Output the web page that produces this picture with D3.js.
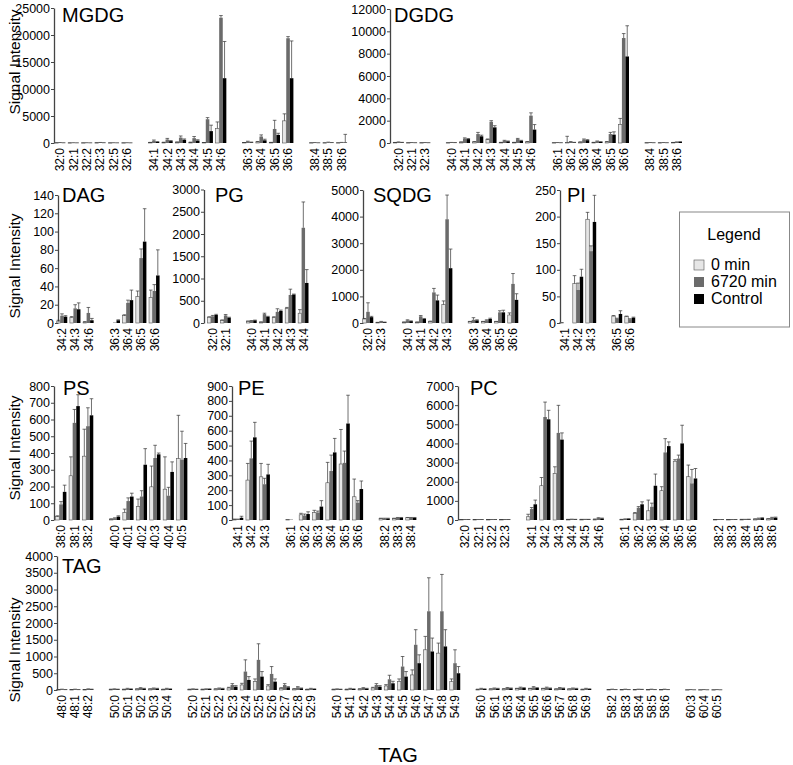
<!DOCTYPE html>
<html lang="en">
<head>
<meta charset="utf-8">
<title>Lipid species signal intensity</title>
<script src="https://d3js.org/d3.v7.min.js"></script>
<style>
body { margin: 0; background: #fff; }
text { font-family: "Liberation Sans", Arial, sans-serif; fill: #000; }
</style>
</head>
<body>
<script>
// series: 0 min, 6720 min, Control
var seriesNames = ["0 min", "6720 min", "Control"];

// MGDG
var mgdgCats = ["32:0","32:1","32:2","32:3","32:5","32:6","","34:1","34:2","34:3","34:4","34:5","34:6","","36:3","36:4","36:5","36:6","","38:4","38:5","38:6"];
var mgdgMean = [[40,60,30],[20,30,20],[20,30,20],[40,80,40],[20,30,20],[20,30,20],
  [80,400,200],[100,650,350],[150,1000,600],[120,900,450],[60,4400,2200],[2700,23200,12000],
  [60,250,120],[200,1200,500],[80,2600,1500],[4100,19400,12000],
  [30,60,30],[30,100,60],[30,80,100]];
var mgdgSd = [[10,20,10],[10,20,10],[10,20,10],[10,20,10],[10,20,10],[10,20,10],
  [40,150,60],[40,200,100],[50,300,150],[40,300,150],[30,300,1100],[1200,400,6800],
  [30,80,50],[80,300,200],[40,1600,300],[1300,300,6900],
  [10,20,10],[10,60,20],[10,30,1500]];
var mgdgTicks = [0,5000,10000,15000,20000,25000];

// DGDG
var dgdgCats = ["32:0","32:1","32:3","","34:0","34:1","34:2","34:3","34:4","34:5","34:6","","36:1","36:2","36:3","36:4","36:5","36:6","","38:4","38:5","38:6"];
var dgdgMean = [[40,80,50],[20,30,20],[20,30,20],
  [20,40,30],[80,400,350],[100,800,600],[300,1900,1400],[50,200,150],[50,350,200],[100,2450,1200],
  [20,30,20],[50,100,50],[80,300,250],[50,150,100],[100,800,750],[1650,9400,7750],
  [20,30,20],[20,30,20],[40,80,100]];
var dgdgSd = [[10,20,10],[5,10,5],[5,10,5],
  [5,10,5],[20,60,50],[30,150,100],[60,100,150],[10,40,30],[10,60,40],[30,250,450],
  [5,10,5],[550,30,10],[20,60,50],[10,30,20],[30,150,250],[550,400,2750],
  [5,10,5],[5,10,5],[10,20,20]];
var dgdgTicks = [0,2000,4000,6000,8000,10000,12000];

// DAG
var dagCats = ["34:2","34:3","34:6","","36:3","36:4","36:5","36:6"];
var dagMean = [[2,8,7],[6,16,15],[1,11,3],[0,0.5,3],[8,22,25],[29,71,89],[28,35,52]];
var dagSd = [[1,2,1],[1,4,7],[0.5,6,2],[0,0,0.5],[1,3,11],[6,10,36],[8,7,28]];
var dagTicks = [0,20,40,60,80,100,120,140];

// PG
var pgCats = ["32:0","32:1","","34:0","34:1","34:2","34:3","34:4"];
var pgMean = [[130,150,180],[60,170,120],[40,50,60],[20,200,140],[120,250,270],[330,630,640],[220,2140,900]];
var pgSd = [[10,20,15],[10,20,10],[5,5,5],[5,20,10],[20,70,20],[20,130,10],[80,580,300]];
var pgTicks = [0,500,1000,1500,2000,2500,3000];

// SQDG
var sqdgCats = ["32:0","32:3","","34:0","34:1","34:2","34:3","","36:3","36:4","36:5","36:6"];
var sqdgMean = [[150,420,220],[20,50,30],[30,100,70],[30,250,150],[60,1150,850],[690,3900,2060],
  [50,120,100],[50,100,150],[50,400,400],[300,1470,870]];
var sqdgSd = [[20,340,30],[5,10,5],[10,20,10],[10,30,20],[10,150,200],[140,910,720],
  [10,80,20],[10,20,30],[10,60,80],[80,390,230]];
var sqdgTicks = [0,1000,2000,3000,4000,5000];

// PI
var piCats = ["34:1","34:2","34:3","","36:5","36:6"];
var piMean = [[1,0,0],[74,62,87],[195,135,190],[13,8,17],[12,7,10]];
var piSd = [[0,0,0],[15,13,14],[13,10,50],[1,1,6],[1,1,1]];
var piTicks = [0,50,100,150,200,250];

// PS
var psCats = ["38:0","38:1","38:2","","40:0","40:1","40:2","40:3","40:4","40:5"];
var psMean = [[20,93,168],[264,580,680],[381,560,625],[5,10,20],[45,113,140],[80,140,330],[198,370,392],[184,145,287],[367,360,370]];
var psSd = [[5,17,40],[113,80,68],[161,110,99],[2,3,5],[20,19,20],[45,35,96],[124,76,8],[193,50,60],[258,170,87]];
var psTicks = [0,100,200,300,400,500,600,700,800];

// PE
var peCats = ["34:1","34:2","34:3","","36:1","36:2","36:3","36:4","36:5","36:6","","38:2","38:3","38:4"];
var peMean = [[5,5,15],[268,414,555],[290,240,306],[3,3,0],[35,30,40],[50,50,90],[250,329,454],[376,384,648],[156,116,208],[10,10,10],[10,15,15],[15,15,15]];
var peSd = [[1,1,10],[112,116,101],[90,40,68],[0,0,0],[10,10,15],[15,10,40],[137,107,94],[232,79,190],[119,14,54],[2,2,2],[2,2,2],[2,2,2]];
var peTicks = [0,100,200,300,400,500,600,700,800,900];

// PC
var pcCats = ["32:0","32:1","32:2","32:3","","34:1","34:2","34:3","34:4","34:5","34:6","","36:1","36:2","36:3","36:4","36:5","36:6","","38:2","38:3","38:4","38:5","38:6"];
var pcMean = [[20,20,20],[20,20,20],[20,20,20],[20,20,20],
  [170,570,820],[1790,5380,5260],[2430,4550,4200],[30,40,30],[30,30,30],[40,100,80],
  [30,50,60],[350,640,820],[480,690,1790],[1530,3530,3860],[3070,3210,4000],[2260,1910,2170],
  [20,20,20],[20,20,20],[30,30,30],[50,80,100],[60,120,120]];
var pcSd = [[5,5,5],[5,5,5],[5,5,5],[5,5,5],
  [130,80,220],[430,780,470],[350,1440,350],[5,5,5],[5,5,5],[10,20,20],
  [5,10,10],[40,60,130],[560,190,610],[210,720,220],[80,180,950],[610,730,520],
  [5,5,5],[5,5,5],[5,5,10],[10,20,20],[10,20,30]];
var pcTicks = [0,1000,2000,3000,4000,5000,6000,7000];

// TAG
var tagCats = ["48:0","48:1","48:2","","50:0","50:1","50:2","50:3","50:4","",
  "52:0","52:1","52:2","52:3","52:4","52:5","52:6","52:7","52:8","52:9","",
  "54:0","54:1","54:2","54:3","54:4","54:5","54:6","54:7","54:8","54:9","",
  "56:0","56:1","56:3","56:4","56:5","56:6","56:7","56:8","56:9","",
  "58:2","58:3","58:4","58:5","58:6","","60:3","60:4","60:5"];
var tagMean = [[10,20,10],[10,20,10],[10,30,20],
  [20,30,20],[20,40,30],[30,60,40],[30,50,40],[20,40,30],
  [20,30,20],[20,30,30],[30,50,40],[60,150,100],[150,550,300],[250,900,400],[120,480,250],[50,150,80],[30,80,50],[20,40,30],
  [20,30,20],[20,40,30],[30,60,40],[60,150,100],[120,320,200],[250,700,400],[450,1350,800],[1200,2350,1150],[1100,2350,1300],[250,800,500],
  [20,40,30],[30,50,40],[30,60,50],[40,70,60],[40,80,60],[40,70,50],[30,60,50],[30,50,40],[20,40,30],
  [10,20,10],[10,20,10],[10,20,15],[10,20,10],[10,20,10],
  [5,10,5],[5,10,5],[5,10,5]];
var tagSd = [[2,5,2],[2,5,2],[2,5,5],
  [5,5,5],[5,10,5],[5,10,10],[5,10,10],[5,10,5],
  [5,5,5],[5,5,5],[5,10,10],[20,40,30],[50,350,100],[80,480,150],[40,220,80],[20,40,20],[10,20,10],[5,10,5],
  [5,5,5],[5,10,5],[5,10,10],[20,40,30],[40,120,60],[80,300,150],[150,450,250],[400,1000,400],[300,1100,500],[80,400,200],
  [5,10,5],[5,10,10],[10,15,10],[10,15,10],[10,20,10],[10,15,10],[5,15,10],[5,10,10],[5,10,5],
  [2,5,2],[2,5,2],[2,5,5],[2,5,2],[2,5,2],
  [1,2,1],[1,2,1],[1,2,1]];
var tagTicks = [0,500,1000,1500,2000,2500,3000,3500,4000];

var w = 793, h = 765;
var fills = ["#e6e6e6", "#6b6b6b", "#000000"];

var svg = d3.select("body").append("svg")
  .attr("width", w)
  .attr("height", h);

// panel layout
var panels = [
  {name: "MGDG", cats: mgdgCats, mean: mgdgMean, sd: mgdgSd, ticks: mgdgTicks, ax: 54, top: 8, base: 143, x0: 53.3, x1: 348.4, tx: 62, ty: 22},
  {name: "DGDG", cats: dgdgCats, mean: dgdgMean, sd: dgdgSd, ticks: dgdgTicks, ax: 390, top: 9, base: 143, x0: 391.9, x1: 683.3, tx: 394, ty: 22},
  {name: "DAG", cats: dagCats, mean: dagMean, sd: dagSd, ticks: dagTicks, ax: 58, top: 195, base: 323, x0: 55.4, x1: 160.9, tx: 62, ty: 202},
  {name: "PG", cats: pgCats, mean: pgMean, sd: pgSd, ticks: pgTicks, ax: 204, top: 189.5, base: 323, x0: 206.2, x1: 309.8, tx: 215, ty: 202},
  {name: "SQDG", cats: sqdgCats, mean: sqdgMean, sd: sqdgSd, ticks: sqdgTicks, ax: 363, top: 190, base: 323, x0: 361.4, x1: 519.6, tx: 373, ty: 202},
  {name: "PI", cats: piCats, mean: piMean, sd: piSd, ticks: piTicks, ax: 560, top: 190, base: 323, x0: 558.5, x1: 636.5, tx: 567, ty: 202},
  {name: "PS", cats: psCats, mean: psMean, sd: psSd, ticks: psTicks, ax: 54, top: 386, base: 520, x0: 54.3, x1: 188.7, tx: 63, ty: 395},
  {name: "PE", cats: peCats, mean: peMean, sd: peSd, ticks: peTicks, ax: 232, top: 386, base: 520, x0: 231.3, x1: 417.7, tx: 238, ty: 395},
  {name: "PC", cats: pcCats, mean: pcMean, sd: pcSd, ticks: pcTicks, ax: 458, top: 386, base: 520, x0: 458.3, x1: 778.7, tx: 470, ty: 395},
  {name: "TAG", cats: tagCats, mean: tagMean, sd: tagSd, ticks: tagTicks, ax: 57, top: 556, base: 690, x0: 55.45, x1: 723.55, tx: 62, ty: 573}
];

panels.forEach(function(p) {
  var g = svg.append("g").attr("class", "panel");

  var y = d3.scaleLinear()
    .domain([0, d3.max(p.ticks)])
    .range([p.base, p.top]);

  var x = d3.scaleBand()
    .domain(d3.range(p.cats.length))
    .range([p.x0, p.x1])
    .paddingInner(0.2)
    .paddingOuter(0.1);

  var xs = d3.scaleBand()
    .domain(d3.range(3))
    .range([0, x.bandwidth()]);

  // flatten rows, skipping the gap slots
  var rows = [];
  var k = 0;
  p.cats.forEach(function(c, i) {
    if (c === "") return;
    for (var s = 0; s < 3; s++) {
      rows.push({i: i, s: s, v: p.mean[k][s], e: p.sd[k][s]});
    }
    k++;
  });

  // y axis
  var yAxis = d3.axisLeft(y)
    .tickValues(p.ticks)
    .tickSize(3)
    .tickSizeOuter(0)
    .tickPadding(1)
    .tickFormat(d3.format("d"));

  var ag = g.append("g")
    .attr("transform", "translate(" + p.ax + ",0)")
    .call(yAxis);
  ag.select(".domain").attr("stroke", "#444").attr("stroke-width", 1.3);
  ag.selectAll(".tick line").attr("stroke", "#444");
  ag.selectAll(".tick text")
    .style("font-family", '"Liberation Sans", Arial, sans-serif')
    .style("font-size", "12.5px")
    .attr("fill", "#000");

  // bars
  g.selectAll("rect.bar")
    .data(rows)
    .enter()
    .append("rect")
    .attr("class", "bar")
    .attr("x", function(d) { return x(d.i) + xs(d.s); })
    .attr("width", xs.bandwidth())
    .attr("y", function(d) { return y(d.v); })
    .attr("height", function(d) { return y(0) - y(d.v); })
    .attr("fill", function(d) { return fills[d.s]; })
    .attr("stroke", function(d) { return d.s === 0 ? "#555" : "none"; })
    .attr("stroke-width", 0.6);

  // error bars
  var eb = g.selectAll("g.err")
    .data(rows.filter(function(d) { return d.e > 0; }))
    .enter()
    .append("g")
    .attr("class", "err")
    .attr("stroke", "#333")
    .attr("stroke-width", 0.7);

  eb.append("line")
    .attr("x1", function(d) { return x(d.i) + xs(d.s) + xs.bandwidth() / 2; })
    .attr("x2", function(d) { return x(d.i) + xs(d.s) + xs.bandwidth() / 2; })
    .attr("y1", function(d) { return y(d.v); })
    .attr("y2", function(d) { return y(d.v + d.e); });

  eb.append("line")
    .attr("x1", function(d) { return x(d.i) + xs(d.s) + xs.bandwidth() / 2 - 1.8; })
    .attr("x2", function(d) { return x(d.i) + xs(d.s) + xs.bandwidth() / 2 + 1.8; })
    .attr("y1", function(d) { return y(d.v + d.e); })
    .attr("y2", function(d) { return y(d.v + d.e); });

  // category labels
  g.selectAll("text.cat")
    .data(p.cats.map(function(c, i) { return {c: c, i: i}; }).filter(function(d) { return d.c !== ""; }))
    .enter()
    .append("text")
    .attr("class", "cat")
    .attr("transform", function(d) {
      return "translate(" + (x(d.i) + x.bandwidth() / 2) + "," + (p.base + 5) + ") rotate(-90)";
    })
    .attr("dy", "0.35em")
    .attr("text-anchor", "end")
    .style("font-size", "12px")
    .text(function(d) { return d.c; });

  // panel title
  g.append("text")
    .attr("x", p.tx)
    .attr("y", p.ty)
    .style("font-size", "20px")
    .text(p.name);
});

// y axis titles
[62, 266, 448, 650].forEach(function(cy) {
  svg.append("text")
    .attr("transform", "translate(20," + cy + ") rotate(-90)")
    .attr("text-anchor", "middle")
    .style("font-size", "15.5px")
    .text("Signal Intensity");
});

// x axis title
svg.append("text")
  .attr("x", 398)
  .attr("y", 762)
  .attr("text-anchor", "middle")
  .style("font-size", "20px")
  .text("TAG");

// legend
var lg = svg.append("g").attr("class", "legend");
lg.append("rect")
  .attr("x", 679.5)
  .attr("y", 212)
  .attr("width", 110)
  .attr("height", 115)
  .attr("fill", "#fff")
  .attr("stroke", "#888");
lg.append("text")
  .attr("x", 734)
  .attr("y", 240)
  .attr("text-anchor", "middle")
  .style("font-size", "16px")
  .text("Legend");

var items = lg.selectAll("g.item")
  .data(seriesNames)
  .enter()
  .append("g")
  .attr("class", "item")
  .attr("transform", function(d, i) { return "translate(694," + (270 + i * 17) + ")"; });
items.append("rect")
  .attr("x", 0)
  .attr("y", -10)
  .attr("width", 10)
  .attr("height", 10)
  .attr("fill", function(d, i) { return fills[i]; })
  .attr("stroke", function(d, i) { return i === 0 ? "#555" : "none"; })
  .attr("stroke-width", 0.6);
items.append("text")
  .attr("x", 17)
  .attr("y", 0)
  .style("font-size", "16px")
  .text(function(d) { return d; });
</script>
</body>
</html>
